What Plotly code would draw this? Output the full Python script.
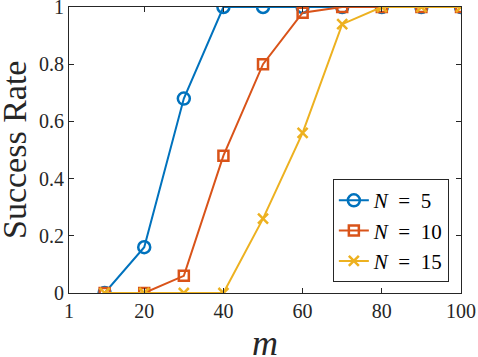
import plotly.graph_objects as go

# sample counts m
m_vals = [10, 20, 30, 40, 50, 60, 70, 80, 90, 100]

# success rate for each N
rate_n5 = [0, 0.16, 0.68, 1, 1, 1, 1, 1, 1, 1]
rate_n10 = [0, 0, 0.06, 0.48, 0.80, 0.98, 1, 1, 1, 1]
rate_n15 = [0, 0, 0, 0, 0.26, 0.56, 0.94, 1, 1, 1]

series_names = ["<i>N</i>\u2002=\u20025", "<i>N</i>\u2002=\u200210", "<i>N</i>\u2002=\u200215"]
x_ticks = [1, 20, 40, 60, 80, 100]
y_ticks = [0, 0.2, 0.4, 0.6, 0.8, 1]

serif = "Liberation Serif"
colors = ["#0072BD", "#D95319", "#EDB120"]
symbols = ["circle-open", "square-open", "x-thin-open"]
sizes = [12, 10, 10]

fig = go.Figure()
for name, ys, c, s, sz in zip(series_names, [rate_n5, rate_n10, rate_n15], colors, symbols, sizes):
    fig.add_trace(go.Scatter(
        x=m_vals, y=ys, name=name, mode="lines+markers",
        line=dict(color=c, width=2),
        marker=dict(symbol=s, size=sz, color=c, line=dict(color=c, width=2.5)),
    ))

axis_style = dict(
    showline=True, linecolor="#262626", linewidth=1, mirror="ticks",
    ticks="inside", ticklen=5, tickcolor="#262626", showgrid=False, zeroline=False,
    tickfont=dict(family=serif, size=20, color="#262626"),
    ticklabeloverflow="allow", automargin=False,
)

fig.update_xaxes(axis_style, range=[1, 100], tickvals=x_ticks)
fig.update_yaxes(axis_style, range=[0, 1], tickvals=y_ticks, ticktext=["0", "0.2", "0.4", "0.6", "0.8", "1"])

# axis titles as annotations so they can sit closer to the page edge
fig.add_annotation(text="<i>m</i>", xref="paper", yref="paper", x=0.5, y=0,
                   xanchor="center", yanchor="middle", yshift=-50, showarrow=False,
                   font=dict(family=serif, size=36, color="#262626"))
fig.add_annotation(text="Success Rate", xref="paper", yref="paper", x=0, y=0.5,
                   xanchor="center", yanchor="middle", xshift=-55, textangle=-90, showarrow=False,
                   font=dict(family=serif, size=34, color="#262626"))

fig.update_layout(
    width=478, height=357,
    font=dict(family=serif, color="#262626"),
    margin=dict(l=69, r=17, t=7, b=64, autoexpand=False),
    plot_bgcolor="white", paper_bgcolor="white",
    legend=dict(x=0.969, y=0.038, xanchor="right", yanchor="bottom",
                bordercolor="#262626", borderwidth=1, bgcolor="white",
                font=dict(family=serif, size=21, color="#000000"),
                tracegroupgap=0, itemwidth=30),
    showlegend=True,
)

# page body has a default 8px margin; remove it so the figure sits at the corner
fig.write_html("out.html", config={"displayModeBar": False},
               post_script="document.body.style.margin='0';")
